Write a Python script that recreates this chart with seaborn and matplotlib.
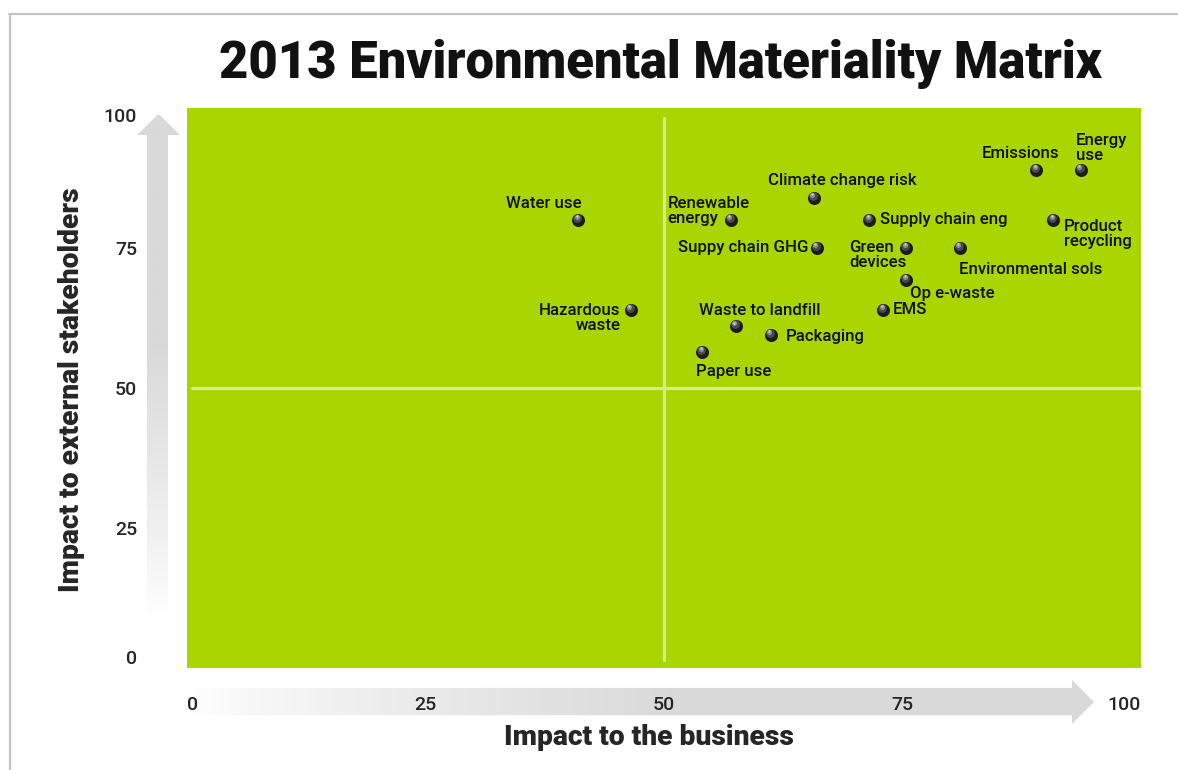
import numpy as np
import pandas as pd
import matplotlib.pyplot as plt
import seaborn as sns
from matplotlib.colors import LinearSegmentedColormap
from matplotlib.patches import Polygon
from matplotlib.lines import Line2D
from matplotlib.transforms import offset_copy

# data
issues = ['Water use', 'Hazardous\nwaste', 'Renewable\nenergy', 'Suppy chain GHG',
          'Climate change risk', 'Waste to landfill', 'Packaging', 'Paper use',
          'Supply chain eng', 'Green\ndevices', 'Op e-waste', 'EMS',
          'Environmental sols', 'Emissions', 'Energy\nuse', 'Product\nrecycling']
business = [41, 46.5, 57, 66, 65.7, 57.5, 61.2, 54, 71.5, 75.4, 75.4, 73, 81, 89, 93.7, 90.8]
stakeholders = [80, 64, 80, 75, 84, 61, 59.5, 56.5, 80, 75, 69.3, 64, 75, 89, 89, 80]
ticks = [0, 25, 50, 75, 100]

# label placement (pixel offsets from point, horizontal alignment)
label_dx = [3, -10, -63, -8, -46, -37, 15, -6, 11, -57, 4, 9, -1, 23, -5, 11]
label_dy = [16, -8, 9, 0, 17, 16, -2, -20, 0, -7, -14, 0, -22, 16, 22, -14]
label_ha = ['right', 'right', 'left', 'right', 'left', 'left', 'left', 'left',
            'left', 'left', 'left', 'left', 'left', 'right', 'left', 'left']

df = pd.DataFrame({'issue': issues, 'business': business, 'stakeholders': stakeholders})

sns.set_style('white')
plt.rcParams['font.family'] = ['Roboto', 'DejaVu Sans']

W, H = 1178, 770
fig = plt.figure(figsize=(W / 100, H / 100), dpi=100)


def px_rect(x0, y0, x1, y1):
    return [x0 / W, 1 - y1 / H, (x1 - x0) / W, (y1 - y0) / H]


ax = fig.add_axes(px_rect(187, 108, 1141, 668))
ax.set_facecolor('#a9d600')
for s in ax.spines.values():
    s.set_visible(False)

ax.axvline(50, ymin=0.014, ymax=0.982, color='#d3ec8c', lw=2.3, zorder=1)
ax.axhline(50, xmin=0.005, xmax=1, color='#d3ec8c', lw=2.3, zorder=1)

# shaded spheres: dark base plus lighter highlight layers
layers = [(88, '#1c1c1c', 0, 0), (40, '#4a4a4a', -1, 2), (14, '#8a8a8a', -1.5, 3), (3, '#cfcfcf', -1.5, 3.5)]
for size, col, ox, oy in layers:
    sns.scatterplot(data=df, x='business', y='stakeholders', ax=ax, s=size, color=col,
                    linewidth=0, zorder=3, legend=False)
    ax.collections[-1].set_offset_transform(
        offset_copy(ax.transData, fig=fig, x=ox, y=oy, units='dots'))

for name, x, y, dx, dy, ha in zip(issues, business, stakeholders, label_dx, label_dy, label_ha):
    ax.annotate(name, (x, y), xytext=(dx, dy), textcoords='offset pixels',
                ha=ha, va='center', multialignment=ha if '\n' in name and ha == 'right' else 'left',
                fontsize=12.1, fontweight='medium', color='#111111', linespacing=1.0, zorder=4)

ax.set_xlim(0, 100)
ax.set_ylim(0, 100)
ax.set_xticks(ticks)
ax.set_yticks(ticks)
ax.set_xticklabels([str(t) for t in ticks], fontsize=14, fontweight='medium')
ax.set_yticklabels([str(t) for t in ticks], fontsize=14, fontweight='medium')
ax.tick_params(axis='x', length=0, pad=20)
ax.tick_params(axis='y', length=0, pad=36)
xl = ax.get_xticklabels()
xl[0].set_ha('left')
xl[-1].set_ha('right')
yl = ax.get_yticklabels()
yl[0].set_va('bottom')
yl[-1].set_va('top')

ax.set_xlabel('Impact to the business', fontsize=20.3, fontweight='black')
ax.set_ylabel('Impact to external stakeholders', fontsize=20.3, fontweight='black')
ax.xaxis.set_label_coords(462 / 954, -0.1)
ax.yaxis.set_label_coords(-0.107, 0.497)

fig.text(660 / W, 1 - 64 / H, '2013 Environmental Materiality Matrix',
         ha='center', va='center', fontsize=36.5, fontweight='black', color='#111111')

# gradient arrows under the tick labels
cmap = LinearSegmentedColormap.from_list('fade', ['#ffffff', '#d9d9d9'])
grad = np.clip(np.linspace(0, 1, 256) / 0.55, 0, 1) ** 0.8

axa = fig.add_axes(px_rect(187, 680, 1094, 724), zorder=-1)
axa.set_xlim(0, 1)
axa.set_ylim(0, 1)
axa.axis('off')
im = axa.imshow(grad[None, :], extent=(0, 1, 0, 1), aspect='auto', cmap=cmap, vmin=0, vmax=1)
hb = (1072 - 187) / (1094 - 187)
arrow = Polygon([(0, 0.2), (hb, 0.2), (hb, 0.0), (1, 0.5), (hb, 1.0), (hb, 0.82), (0, 0.82)],
                closed=True, transform=axa.transData, facecolor='none', edgecolor='none')
axa.add_patch(arrow)
im.set_clip_path(arrow)

axv = fig.add_axes(px_rect(137, 114, 180, 615), zorder=-1)
axv.set_xlim(0, 1)
axv.set_ylim(0, 1)
axv.axis('off')
imv = axv.imshow(grad[:, None], extent=(0, 1, 0, 1), origin='lower',
                 aspect='auto', cmap=cmap, vmin=0, vmax=1)
hv = 1 - (135 - 114) / (615 - 114)
varrow = Polygon([(0.23, 0), (0.23, hv), (0, hv), (0.5, 1), (1, hv), (0.72, hv), (0.72, 0)],
                 closed=True, transform=axv.transData, facecolor='none', edgecolor='none')
axv.add_patch(varrow)
imv.set_clip_path(varrow)

# thin frame at top and left
fig.add_artist(Line2D([9 / W, 1], [1 - 14 / H, 1 - 14 / H], color='#c4c4c4', lw=1.6))
fig.add_artist(Line2D([10 / W, 10 / W], [0, 1 - 14 / H], color='#c4c4c4', lw=1.6))

fig.savefig('out.png', dpi=100)
